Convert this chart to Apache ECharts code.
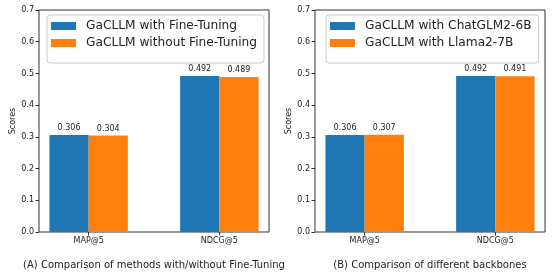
<!DOCTYPE html>
<html><head><meta charset="utf-8">
<script src="https://cdn.jsdelivr.net/npm/echarts@6/dist/echarts.min.js"></script>
<style>html,body{margin:0;padding:0;background:#fff}#c{width:556px;height:279px}</style>
</head><body><div id="c"></div>
<script>
const categories = ['MAP@5', 'NDCG@5'];
const yTicks = [0, 0.1, 0.2, 0.3, 0.4, 0.5, 0.6, 0.7];
const nameWithFT = 'GaCLLM with Fine-Tuning';
const nameWithoutFT = 'GaCLLM without Fine-Tuning';
const nameChatGLM = 'GaCLLM with ChatGLM2-6B';
const nameLlama = 'GaCLLM with Llama2-7B';
const withFT = [0.306, 0.492];
const withoutFT = [0.304, 0.489];
const chatGLM = [0.306, 0.492];
const llama = [0.307, 0.491];
const captionA = '(A) Comparison of methods with/without Fine-Tuning';
const captionB = '(B) Comparison of different backbones';

const FONT = 'DejaVu Sans';
const BLUE = '#1f77b4', ORANGE = '#ff7f0e', TXT = '#222';

function xAxis(gi) {
  return {
    type: 'value', gridIndex: gi, min: -0.38, max: 1.38,
    axisLine: { show: false, onZero: false },
    splitLine: { show: false },
    axisTick: { show: true, customValues: categories.map((c, i) => i), length: 3.5, lineStyle: { color: '#333' } },
    axisLabel: { customValues: categories.map((c, i) => i), formatter: v => categories[Math.round(v)] || '', fontFamily: FONT, fontSize: 8, color: TXT, margin: 5 }
  };
}
function yAxis(gi) {
  return {
    type: 'value', gridIndex: gi, min: yTicks[0], max: yTicks[yTicks.length - 1], interval: 0.1,
    name: 'Scores', nameLocation: 'middle', nameGap: 22,
    nameTextStyle: { fontFamily: FONT, fontSize: 8, color: TXT },
    axisLine: { show: false, onZero: false },
    splitLine: { show: false },
    axisTick: { show: true, length: 3.5, lineStyle: { color: '#333' } },
    axisLabel: { formatter: v => v.toFixed(1), fontFamily: FONT, fontSize: 8, color: TXT, margin: 5 }
  };
}
function bar(name, vals, color, gi) {
  return {
    type: 'bar', name, xAxisIndex: gi, yAxisIndex: gi,
    data: vals.map((v, i) => [i, v]),
    barWidth: '30%', barGap: '0%',
    itemStyle: { color },
    label: { show: true, position: 'top', distance: 3, formatter: p => p.value[1].toFixed(3), fontFamily: FONT, fontSize: 8, color: TXT }
  };
}
function legend(names, left) {
  return {
    orient: 'vertical', left, top: 15, data: names,
    itemWidth: 25, itemHeight: 8, itemGap: 5, icon: 'rect',
    padding: [5, 7, 14, 4],
    borderColor: '#ccc', borderWidth: 1, borderRadius: 3,
    formatter: n => '{t|' + n + '}',
    textStyle: { fontFamily: FONT, fontSize: 12.2, color: TXT,
      rich: { t: { fontFamily: FONT, fontSize: 12.2, color: TXT, padding: [0, 0, 0, 5] } } },
    selectedMode: false
  };
}
const chart = echarts.init(document.getElementById('c'), null, { renderer: 'canvas' });
chart.setOption({
  animation: false,
  backgroundColor: '#fff',
  grid: [
    { left: 39, right: 287, top: 10, bottom: 47, show: true, borderColor: '#333', borderWidth: 1 },
    { left: 315, right: 11, top: 10, bottom: 47, show: true, borderColor: '#333', borderWidth: 1 }
  ],
  xAxis: [xAxis(0), xAxis(1)],
  yAxis: [yAxis(0), yAxis(1)],
  legend: [legend([nameWithFT, nameWithoutFT], 47), legend([nameChatGLM, nameLlama], 326)],
  title: [
    { text: captionA, left: 154, top: 260, textAlign: 'center', padding: 0, textStyle: { fontFamily: FONT, fontSize: 10, fontWeight: 'normal', color: TXT } },
    { text: captionB, left: 430, top: 260, textAlign: 'center', padding: 0, textStyle: { fontFamily: FONT, fontSize: 10, fontWeight: 'normal', color: TXT } }
  ],
  series: [
    bar(nameWithFT, withFT, BLUE, 0),
    bar(nameWithoutFT, withoutFT, ORANGE, 0),
    bar(nameChatGLM, chatGLM, BLUE, 1),
    bar(nameLlama, llama, ORANGE, 1)
  ]
});
</script></body></html>
